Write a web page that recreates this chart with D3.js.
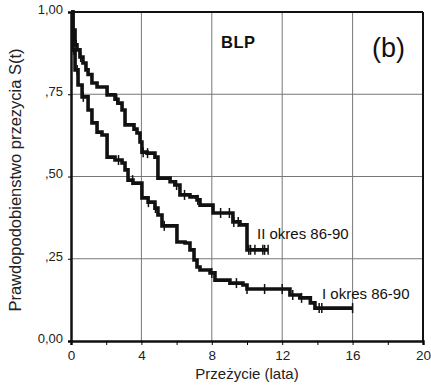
<!DOCTYPE html>
<html>
<head>
<meta charset="utf-8">
<script src="https://cdn.jsdelivr.net/npm/d3@7"></script>
<style>
  body { margin: 0; background: #fff; }
  text { font-family: "Liberation Sans", Arial, sans-serif; }
</style>
</head>
<body>
<div id="viz"></div>
<script>
// curve II okres (upper) : step times and survival after step
var timesII = [0, 0.11, 0.23, 0.34, 0.51, 0.68, 0.85, 0.97, 1.19, 1.48, 2.05, 2.5, 2.67, 2.9, 3.07, 3.58, 3.75, 3.92, 4.03, 4.32, 4.77, 4.94, 5.63, 5.9, 6.19, 6.76, 7.16, 7.33, 8.07, 9.2, 9.6, 10.0];
var survII = [1.0, 0.945, 0.90, 0.885, 0.863, 0.845, 0.824, 0.81, 0.784, 0.772, 0.748, 0.735, 0.723, 0.702, 0.657, 0.644, 0.632, 0.605, 0.574, 0.571, 0.559, 0.495, 0.484, 0.474, 0.444, 0.438, 0.429, 0.413, 0.389, 0.362, 0.353, 0.277];
var endII = 11.2;
var censII = [0.3, 0.55, 2.6, 4.1, 4.35, 6.0, 6.45, 7.2, 8.5, 9.0, 9.25, 9.5, 10.1, 10.2, 10.45, 10.9, 11.0, 11.2];

// curve I okres (lower)
var timesI = [0, 0.11, 0.23, 0.4, 0.63, 0.97, 1.19, 1.48, 1.76, 2.05, 2.5, 2.9, 3.07, 3.24, 3.52, 4.03, 4.38, 4.77, 4.94, 5.17, 6.02, 6.48, 6.76, 6.99, 7.16, 7.33, 7.9, 8.18, 9.03, 9.77, 10.0, 12.44, 13.0, 13.6, 13.86];
var survI = [1.0, 0.885, 0.824, 0.778, 0.742, 0.702, 0.663, 0.635, 0.626, 0.559, 0.55, 0.541, 0.52, 0.489, 0.48, 0.435, 0.422, 0.404, 0.383, 0.35, 0.301, 0.298, 0.277, 0.246, 0.225, 0.216, 0.207, 0.185, 0.176, 0.17, 0.158, 0.14, 0.131, 0.116, 0.1];
var endI = 16.0;
var censI = [0.15, 0.35, 0.7, 2.7, 3.5, 4.4, 4.8, 5.3, 8.0, 9.4, 10.0, 11.0, 12.0, 12.6, 13.1, 14.1, 14.25, 16.0];

var xTicks = [0, 4, 8, 12, 16, 20];
var xMinor = [2, 6, 10, 14, 18];
var yTicks = [0, 0.25, 0.5, 0.75, 1.0];
var yLabels = ['0,00', ',25', ',50', ',75', '1,00'];

var W = 431, H = 387;
var svg = d3.select('#viz').append('svg').attr('width', W).attr('height', H);

var x = d3.scaleLinear().domain([0, 20]).range([71, 423]);
var y = d3.scaleLinear().domain([0, 1]).range([341, 12]);

// grid
svg.append('g').selectAll('line').data([4, 8, 12, 16]).enter().append('line')
  .attr('x1', d => x(d)).attr('x2', d => x(d)).attr('y1', y(1)).attr('y2', y(0))
  .attr('stroke', '#777').attr('stroke-width', 1);
svg.append('g').selectAll('line').data([0.25, 0.5, 0.75]).enter().append('line')
  .attr('x1', x(0)).attr('x2', x(20)).attr('y1', d => y(d)).attr('y2', d => y(d))
  .attr('stroke', '#777').attr('stroke-width', 1);

// frame
svg.append('line').attr('x1', x(0)).attr('x2', x(20)).attr('y1', y(1)).attr('y2', y(1)).attr('stroke', '#111').attr('stroke-width', 2);
svg.append('line').attr('x1', x(20)).attr('x2', x(20)).attr('y1', y(1)).attr('y2', y(0)).attr('stroke', '#111').attr('stroke-width', 2);

// axes
var xAxis = d3.axisBottom(x).tickValues(xTicks.concat(xMinor)).tickSize(4)
  .tickFormat(d => xTicks.indexOf(d) >= 0 ? d : '');
var gx = svg.append('g').attr('transform', 'translate(0,' + y(0) + ')').call(xAxis);
gx.select('.domain').attr('stroke-width', 2.5).attr('stroke', '#111');
gx.selectAll('text').attr('font-size', 13.5).attr('fill', '#222').attr('dy', '0.9em');

var yAxis = d3.axisLeft(y).tickValues(yTicks).tickSize(3)
  .tickFormat((d, i) => yLabels[i]);
var gy = svg.append('g').attr('transform', 'translate(' + x(0) + ',0)').call(yAxis);
gy.select('.domain').attr('stroke-width', 2.5).attr('stroke', '#111');
gy.selectAll('text').attr('font-size', 13).attr('fill', '#222').attr('dy', '0.1em').attr('x', -8);

// curves
function stepData(times, surv, end) {
  var pts = times.map((t, i) => [t, surv[i]]);
  pts.push([end, surv[surv.length - 1]]);
  return pts;
}
function survAt(times, surv, t) {
  var v = surv[0];
  for (var i = 0; i < times.length; i++) { if (times[i] <= t) v = surv[i]; }
  return v;
}
var line = d3.line().x(d => x(d[0])).y(d => y(d[1])).curve(d3.curveStepAfter);

[[timesII, survII, endII, censII], [timesI, survI, endI, censI]].forEach(function(c) {
  svg.append('path').datum(stepData(c[0], c[1], c[2]))
    .attr('d', line).attr('fill', 'none').attr('stroke', '#111')
    .attr('stroke-width', 3.6).attr('stroke-linejoin', 'miter');
  svg.append('g').selectAll('line').data(c[3]).enter().append('line')
    .attr('x1', d => x(d)).attr('x2', d => x(d))
    .attr('y1', d => y(survAt(c[0], c[1], d)) - 5)
    .attr('y2', d => y(survAt(c[0], c[1], d)) + 5)
    .attr('stroke', '#111').attr('stroke-width', 1.5);
});

// labels
svg.append('text').attr('x', 221).attr('y', 48).attr('font-size', 16.5).attr('font-weight', 'bold')
  .attr('font-family', '"DejaVu Sans", sans-serif').attr('letter-spacing', 0.5)
  .attr('fill', '#111').text('BLP');
svg.append('text').attr('x', 372).attr('y', 57).attr('font-size', 27).attr('fill', '#111').text('(b)');
svg.append('text').attr('x', 257).attr('y', 239).attr('font-size', 15).attr('fill', '#111').text('II okres 86-90');
svg.append('text').attr('x', 322).attr('y', 299).attr('font-size', 15).attr('fill', '#111').text('I okres 86-90');
svg.append('text').attr('x', 247).attr('y', 379).attr('text-anchor', 'middle').attr('font-size', 15)
  .attr('fill', '#222').text('Przeżycie (lata)');
svg.append('text').attr('transform', 'translate(21,' + 180 + ') rotate(-90)').attr('text-anchor', 'middle')
  .attr('font-size', 16.5).attr('fill', '#222').text('Prawdopodobienstwo przezycia S(t)');
</script>
</body>
</html>
